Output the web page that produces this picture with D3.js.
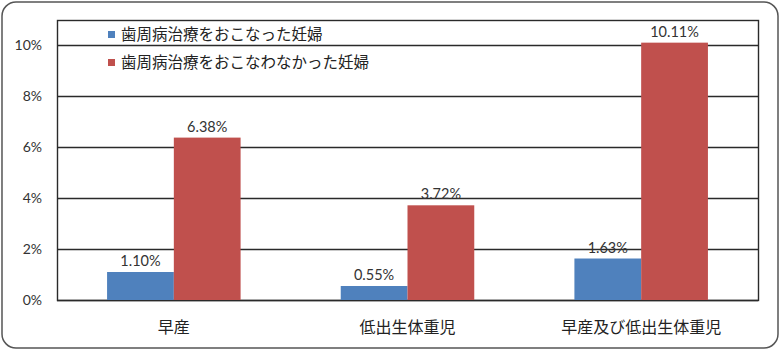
<!DOCTYPE html>
<html>
<head>
<meta charset="utf-8">
<script src="https://cdn.jsdelivr.net/npm/d3@7"></script>
<style>
  body { margin: 0; background: #fff; }
  text { font-family: Lato, "Noto Sans CJK JP", sans-serif; }
</style>
</head>
<body>
<script>
// chart data
const categories = ["早産", "低出生体重児", "早産及び低出生体重児"];
const seriesNames = ["歯周病治療をおこなった妊婦", "歯周病治療をおこなわなかった妊婦"];
const treated = [1.10, 0.55, 1.63];
const untreated = [6.38, 3.72, 10.11];
const yTicks = [0, 2, 4, 6, 8, 10];
const colors = ["#4F81BD", "#C0504D"];

const width = 780, height = 351;
const margin = {top: 20, right: 22, bottom: 51, left: 57};

const svg = d3.select("body").append("svg")
    .attr("width", width)
    .attr("height", height);

// outer frame with rounded corners
svg.append("rect")
    .attr("x", 2).attr("y", 2)
    .attr("width", width - 4).attr("height", height - 5)
    .attr("rx", 14)
    .attr("fill", "#fff")
    .attr("stroke", "#555")
    .attr("stroke-width", 1.5);

const x = d3.scaleBand()
    .domain(categories)
    .range([margin.left, width - margin.right]);

const x1 = d3.scaleBand()
    .domain([0, 1])
    .range([0, x.bandwidth()])
    .paddingOuter(0.75)
    .paddingInner(0);

const y = d3.scaleLinear()
    .domain([0, 11])
    .range([height - margin.bottom, margin.top]);

// gridlines
svg.append("g")
  .selectAll("line")
  .data(yTicks)
  .join("line")
    .attr("x1", margin.left)
    .attr("x2", width - margin.right)
    .attr("y1", d => Math.round(y(d)) + 0.5)
    .attr("y2", d => Math.round(y(d)) + 0.5)
    .attr("stroke", "#2a2a2a")
    .attr("stroke-width", 1.4);

// plot area border
svg.append("rect")
    .attr("x", margin.left + 0.5)
    .attr("y", margin.top + 0.5)
    .attr("width", width - margin.right - margin.left)
    .attr("height", y(0) - margin.top)
    .attr("fill", "none")
    .attr("stroke", "#2a2a2a")
    .attr("stroke-width", 1.4);

// y tick labels
svg.append("g")
  .selectAll("text")
  .data(yTicks)
  .join("text")
    .attr("x", 42)
    .attr("y", d => y(d))
    .attr("dy", "0.35em")
    .attr("text-anchor", "end")
    .attr("font-size", 14)
    .attr("fill", "#333")
    .text(d => d + "%");

const rows = categories.map((c, i) => ({cat: c, vals: [treated[i], untreated[i]]}));

const groups = svg.append("g")
  .selectAll("g")
  .data(rows)
  .join("g")
    .attr("transform", d => `translate(${x(d.cat)},0)`);

groups.selectAll("rect")
  .data(d => d.vals.map((v, s) => ({v, s})))
  .join("rect")
    .attr("x", d => x1(d.s))
    .attr("width", x1.bandwidth())
    .attr("y", d => y(d.v))
    .attr("height", d => y(0) - y(d.v))
    .attr("fill", d => colors[d.s]);

// value labels
groups.selectAll("text.val")
  .data(d => d.vals.map((v, s) => ({v, s})))
  .join("text")
    .attr("class", "val")
    .attr("x", d => x1(d.s) + x1.bandwidth() / 2)
    .attr("y", d => y(d.v) - 6)
    .attr("text-anchor", "middle")
    .attr("font-size", 14.5)
    .attr("fill", "#333")
    .text(d => d.v.toFixed(2) + "%");

// category labels
svg.append("g")
  .selectAll("text")
  .data(categories)
  .join("text")
    .attr("x", d => x(d) + x.bandwidth() / 2)
    .attr("y", 327)
    .attr("dy", "0.35em")
    .attr("text-anchor", "middle")
    .attr("font-size", 16)
    .attr("fill", "#222")
    .text(d => d);

// legend
const legend = svg.append("g")
  .selectAll("g")
  .data(seriesNames)
  .join("g")
    .attr("transform", (d, i) => `translate(108,${35 + i * 28})`);

legend.append("rect")
    .attr("x", 0).attr("y", -4)
    .attr("width", 7).attr("height", 7)
    .attr("fill", (d, i) => colors[i]);

legend.append("text")
    .attr("x", 13)
    .attr("dy", "0.35em")
    .attr("font-size", 15.5)
    .attr("fill", "#222")
    .text(d => d);
</script>
</body>
</html>
